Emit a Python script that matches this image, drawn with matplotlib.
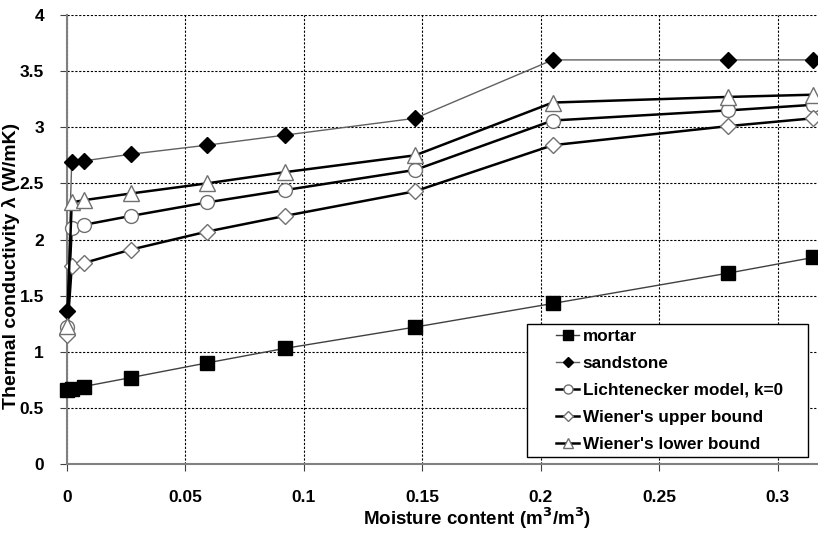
import matplotlib.pyplot as plt
from matplotlib.lines import Line2D
from matplotlib.legend_handler import HandlerLine2D

plt.rcParams['font.family'] = ['Liberation Sans', 'DejaVu Sans']
plt.rcParams['font.weight'] = 'bold'

# teneur en eau (m3/m3)
moisture = [0, 0.002, 0.007, 0.027, 0.059, 0.092, 0.147, 0.205, 0.279, 0.315]

mortar = [0.66, 0.67, 0.69, 0.77, 0.90, 1.03, 1.22, 1.43, 1.70, 1.84]
sandstone = [1.36, 2.69, 2.70, 2.76, 2.84, 2.93, 3.08, 3.60, 3.60, 3.60]
lichtenecker = [1.22, 2.10, 2.13, 2.21, 2.33, 2.44, 2.62, 3.06, 3.15, 3.20]
wiener_up = [1.15, 1.76, 1.79, 1.91, 2.07, 2.21, 2.43, 2.84, 3.01, 3.08]
wiener_low = [1.23, 2.33, 2.35, 2.41, 2.50, 2.60, 2.75, 3.22, 3.27, 3.29]

x_ticks = [0, 0.05, 0.1, 0.15, 0.2, 0.25, 0.3]
x_labels = ['0', '0.05', '0.1', '0.15', '0.2', '0.25', '0.3']
y_ticks = [0, 0.5, 1, 1.5, 2, 2.5, 3, 3.5, 4]
y_labels = ['0', '0.5', '1', '1.5', '2', '2.5', '3', '3.5', '4']

DECALAGE = 1.4  # en unites de fontsize


class HandlerDecale(HandlerLine2D):
    # decale le symbole vers la droite dans la legende
    def create_artists(self, legend, orig_handle, xdescent, ydescent,
                       width, height, fontsize, trans):
        d = DECALAGE * fontsize
        return super().create_artists(legend, orig_handle, xdescent - d,
                                      ydescent, width - d, height, fontsize, trans)


fig = plt.figure(figsize=(8.18, 5.33), dpi=100)
ax = fig.add_axes([67/818, 1-464/533, 751/818, 449/533])

ax.plot(moisture, mortar, color='#404040', lw=1.0, marker='s', ms=10,
        mfc='black', mec='black', label='mortar', zorder=3, clip_on=False)
ax.plot(moisture, sandstone, color='#606060', lw=1.0, marker='D', ms=8,
        mfc='black', mec='black', label='sandstone', zorder=3, clip_on=False)
ax.plot(moisture, lichtenecker, color='black', lw=1.8, marker='o', ms=10,
        mfc='white', mec='#707070', mew=1.0, label='Lichtenecker model, k=0',
        zorder=3, clip_on=False)
ax.plot(moisture, wiener_up, color='black', lw=1.8, marker='D', ms=8,
        mfc='white', mec='#707070', mew=1.0, label="Wiener's upper bound",
        zorder=3, clip_on=False)
ax.plot(moisture, wiener_low, color='black', lw=1.8, marker='^', ms=11,
        mfc='white', mec='#707070', mew=1.0, label="Wiener's lower bound",
        zorder=3, clip_on=False)

ax.set_xlim(0, 0.317)
ax.set_ylim(0, 4)
ax.set_xticks(x_ticks)
ax.set_xticklabels(x_labels)
ax.set_yticks(y_ticks)
ax.set_yticklabels(y_labels)
ax.tick_params(labelsize=12.5, direction='out', length=5, color='#404040', pad=13.5)
ax.tick_params(axis='y', pad=11.5)

ax.grid(True, color='black', ls=(0, (2, 1.5)), lw=0.8)
ax.set_axisbelow(True)
for s in ['top', 'right']:
    ax.spines[s].set_visible(False)
for s in ['left', 'bottom']:
    ax.spines[s].set_color('#808080')
    ax.spines[s].set_linewidth(1.5)

ax.set_xlabel('Moisture content (m$^3$/m$^3$)', fontsize=13.5, fontweight='bold')
ax.xaxis.set_label_coords(0.546, -0.093)
ax.set_ylabel('Thermal conductivity λ (W/mK)', fontsize=14, fontweight='bold')
ax.yaxis.set_label_coords(-0.063, 0.441)

leg = ax.legend(loc='lower left', bbox_to_anchor=(0.6125, 0.0156, 0.3742, 0.5),
                mode='expand', fontsize=12.3,
                frameon=True, fancybox=False, edgecolor='black', framealpha=1,
                handlelength=2.75, borderpad=0.3, labelspacing=0.7, handletextpad=0.2,
                markerscale=0.65, borderaxespad=0,
                handler_map={Line2D: HandlerDecale()})
leg.get_frame().set_linewidth(1.0)

plt.savefig('out.png', dpi=100)
